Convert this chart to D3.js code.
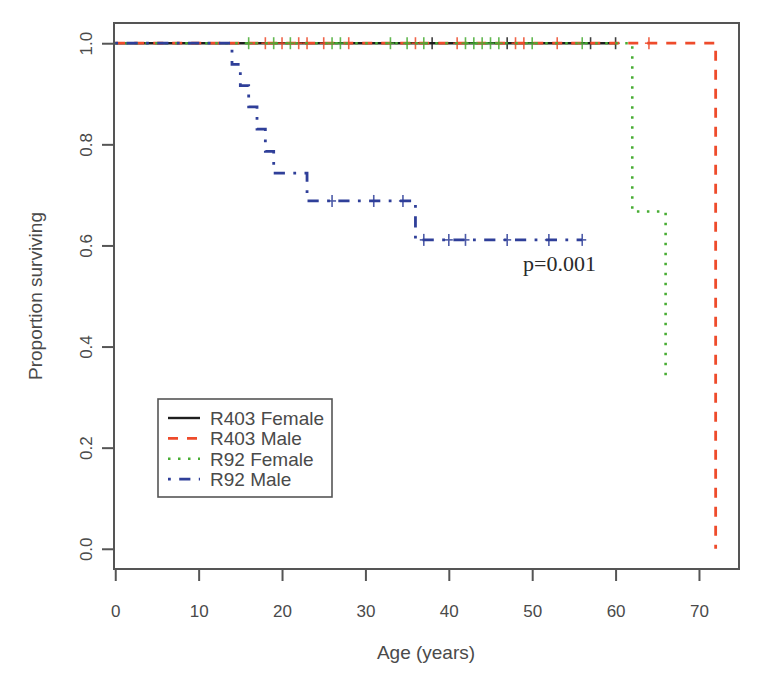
<!DOCTYPE html>
<html>
<head>
<meta charset="utf-8">
<script src="https://cdn.jsdelivr.net/npm/d3@7/dist/d3.min.js"></script>
<style>
  html, body { margin: 0; padding: 0; background: #fff; }
  svg { display: block; }
</style>
</head>
<body>
<svg id="chart" width="763" height="677"></svg>
<script>
// ---------------- data ----------------
const ageTicks = [0, 10, 20, 30, 40, 50, 60, 70];
const propTicks = [0.0, 0.2, 0.4, 0.6, 0.8, 1.0];
const seriesNames = ["R403 Female", "R403 Male", "R92 Female", "R92 Male"];

// step curves: event times and survival after each event, plus last follow-up time
const r403FemaleTimes = [0];
const r403FemaleSurv  = [1.0];
const r403FemaleEnd   = 60;
const r403FemaleCens  = [38, 47, 57, 60];

const r403MaleTimes = [0, 72];
const r403MaleSurv  = [1.0, 0.0];
const r403MaleEnd   = 72;
const r403MaleCens  = [18, 20, 22, 23, 25, 28, 36, 41, 48, 49, 53, 64];

const r92FemaleTimes = [0, 62, 66];
const r92FemaleSurv  = [1.0, 0.667, 0.333];
const r92FemaleEnd   = 66;
const r92FemaleCens  = [16, 19, 21, 26, 27, 33, 35, 37, 42, 43, 44, 45, 46, 50, 56];

const r92MaleTimes = [0, 14, 15, 16, 17, 18, 19, 23, 36];
const r92MaleSurv  = [1.0, 0.958, 0.916, 0.874, 0.830, 0.786, 0.743, 0.688, 0.611];
const r92MaleEnd   = 56;
const r92MaleCens  = [26, 31, 34.5, 37, 40, 42, 47, 52, 56];

const pValueLabel = "p=0.001";

// ---------------- styles ----------------
const colors = ["#1e1e1e", "#ee4b2b", "#48ad34", "#2f3f99"];
const dashes = ["none", "10,9", "2.5,7.5", "2.8,8.4,11.2,8.4"];
const widths = [2.4, 2.8, 2.6, 2.8];

const series = [
  {times: r403FemaleTimes, surv: r403FemaleSurv, end: r403FemaleEnd, cens: r403FemaleCens},
  {times: r403MaleTimes,   surv: r403MaleSurv,   end: r403MaleEnd,   cens: r403MaleCens},
  {times: r92FemaleTimes,  surv: r92FemaleSurv,  end: r92FemaleEnd,  cens: r92FemaleCens},
  {times: r92MaleTimes,    surv: r92MaleSurv,    end: r92MaleEnd,    cens: r92MaleCens}
];

// ---------------- layout ----------------
const svg = d3.select("#chart");
const x = d3.scaleLinear().domain([-0.15, 74.8]).range([114, 739]);
const y = d3.scaleLinear().domain([-0.04, 1.04]).range([569, 23]);
const font = "'Liberation Sans', Arial, Helvetica, sans-serif";
const axisColor = "#555";
const textColor = "#4a4a4a";

// curves
function stepPoints(s) {
  const pts = [];
  for (let i = 0; i < s.times.length; i++) {
    if (i > 0) pts.push([s.times[i], s.surv[i - 1]]);
    pts.push([s.times[i], s.surv[i]]);
  }
  const last = s.surv[s.surv.length - 1];
  if (s.end > s.times[s.times.length - 1]) pts.push([s.end, last]);
  return pts;
}
function survAt(s, t) {
  let v = s.surv[0];
  for (let i = 0; i < s.times.length; i++) if (s.times[i] <= t) v = s.surv[i];
  return v;
}
const line = d3.line().x(d => x(d[0])).y(d => y(d[1]));

const plot = svg.append("g");
series.forEach((s, i) => {
  plot.append("path")
    .attr("d", line(stepPoints(s)))
    .attr("fill", "none")
    .attr("stroke", colors[i])
    .attr("stroke-width", widths[i])
    .attr("stroke-dasharray", dashes[i]);
  const g = plot.append("g").attr("stroke", colors[i]).attr("stroke-width", 1.6).attr("opacity", 0.85);
  s.cens.forEach(t => {
    const cx = x(t), cy = y(survAt(s, t));
    g.append("line").attr("x1", cx).attr("x2", cx).attr("y1", cy - 6).attr("y2", cy + 6);
    g.append("line").attr("x1", cx - 4).attr("x2", cx + 4).attr("y1", cy).attr("y2", cy);
  });
});

// frame
svg.append("rect")
  .attr("x", 114).attr("y", 23).attr("width", 739 - 114).attr("height", 569 - 23)
  .attr("fill", "none").attr("stroke", axisColor).attr("stroke-width", 2);

// x axis
const xAxis = svg.append("g")
  .attr("transform", "translate(0,569)")
  .call(d3.axisBottom(x).tickValues(ageTicks).tickSize(12).tickFormat(d3.format("d")));
xAxis.select(".domain").remove();
xAxis.selectAll(".tick line").attr("stroke", axisColor).attr("stroke-width", 2);
xAxis.selectAll(".tick text")
  .attr("y", 36).attr("dy", "0.71em")
  .attr("fill", textColor).style("font-family", font).style("font-size", "17px");

// y axis
const yAxis = svg.append("g")
  .attr("transform", "translate(114,0)")
  .call(d3.axisLeft(y).tickValues(propTicks).tickSize(12).tickFormat(d3.format(".1f")));
yAxis.select(".domain").remove();
yAxis.selectAll(".tick line").attr("stroke", axisColor).attr("stroke-width", 2);
yAxis.selectAll(".tick text")
  .attr("x", 0).attr("y", -22).attr("dy", 0)
  .attr("transform", "rotate(-90)")
  .attr("text-anchor", "middle")
  .attr("fill", textColor).style("font-family", font).style("font-size", "17px");

// axis titles
svg.append("text")
  .attr("x", 426).attr("y", 659)
  .attr("text-anchor", "middle")
  .attr("fill", textColor).style("font-family", font).style("font-size", "19px")
  .text("Age (years)");
svg.append("text")
  .attr("transform", "translate(42,296) rotate(-90)")
  .attr("text-anchor", "middle")
  .attr("fill", textColor).style("font-family", font).style("font-size", "19px")
  .text("Proportion surviving");

// p value
svg.append("text")
  .attr("x", 523).attr("y", 271)
  .attr("fill", "#2a2a2a")
  .style("font-family", "'Liberation Serif', 'Times New Roman', serif")
  .style("font-size", "22px")
  .text(pValueLabel);

// legend
const lg = svg.append("g");
lg.append("rect")
  .attr("x", 158).attr("y", 399).attr("width", 332 - 158).attr("height", 497 - 399)
  .attr("fill", "#fff").attr("stroke", axisColor).attr("stroke-width", 1.6);
seriesNames.forEach((name, i) => {
  const ly = 418 + i * 20.4;
  lg.append("line")
    .attr("x1", 168).attr("x2", 200).attr("y1", ly).attr("y2", ly)
    .attr("stroke", colors[i]).attr("stroke-width", widths[i])
    .attr("stroke-dasharray", dashes[i]);
  lg.append("text")
    .attr("x", 210).attr("y", ly).attr("dy", "0.36em")
    .attr("fill", textColor).style("font-family", font).style("font-size", "19px")
    .text(name);
});
</script>
</body>
</html>
